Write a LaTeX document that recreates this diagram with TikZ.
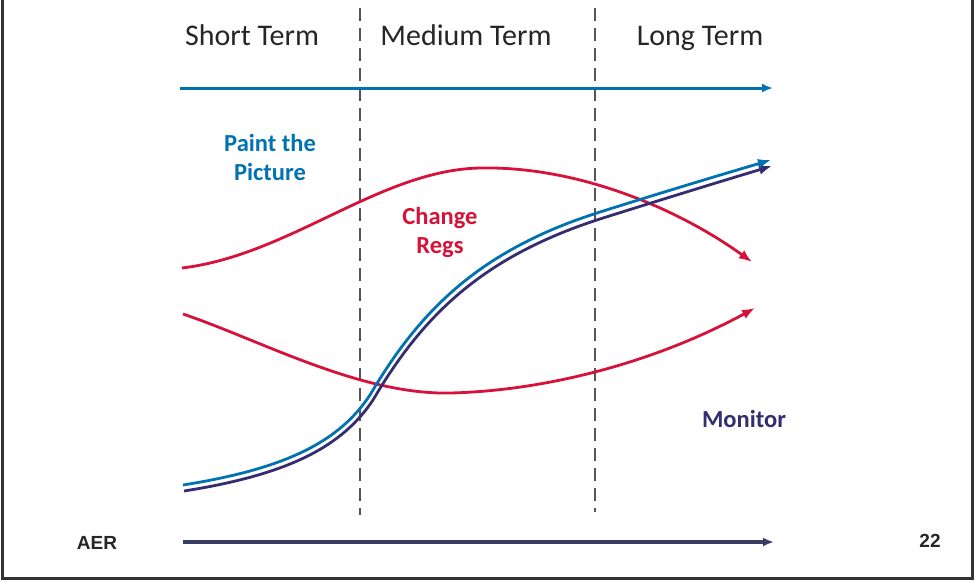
\documentclass[tikz,border=0pt]{standalone}
\usepackage{fontspec}
\setmainfont{Carlito}
\newfontfamily\arialfont{Liberation Sans}
\usetikzlibrary{arrows.meta}

\definecolor{aerblue}{RGB}{0,114,176}
\definecolor{aerred}{RGB}{214,18,58}
\definecolor{aernavy}{RGB}{52,46,112}
\definecolor{aerslate}{RGB}{56,62,98}
\definecolor{aergray}{RGB}{85,85,85}

\begin{document}
\begin{tikzpicture}[
    x=1pt, y=-1pt,
    term/.style = {font=\fontsize{30}{34}\selectfont, text=black!85, inner sep=0pt, anchor=base},
    tag/.style = {font=\fontsize{24.5}{29}\selectfont\bfseries, align=center, inner sep=0pt},
    corner/.style = {font=\arialfont\fontsize{19}{21}\selectfont\bfseries, text=black!85, inner sep=0pt},
    divider/.style = {draw=aergray, line width=1.8pt, dash pattern=on 13pt off 7pt},
    timeline/.style = {-{Latex[length=11pt,width=9pt]}, line width=3pt},
    redcurve/.style = {-{Latex[length=13pt,width=10pt]}, draw=aerred, line width=2.8pt},
    bluecurve/.style = {-{Latex[length=13pt,width=10pt]}, draw=aerblue, line width=2.8pt},
    purplecurve/.style = {-{Latex[length=13pt,width=10pt]}, draw=aernavy, line width=2.8pt}
]
\useasboundingbox (0,0) rectangle (976,582);

% frame, open at the top
\draw[line width=3pt, black!80] (2,0) -- (2,578) -- (972,578) -- (972,0);

% column headings
\node[term] (short) at (252,45) {Short Term};
\node[term] (medium) at (466,45) {Medium Term};
\node[term] (long) at (700,45) {Long Term};

% dashed column dividers
\coordinate (d1top) at (360,8);
\coordinate (d1bot) at (360,515);
\coordinate (d2top) at (595,8);
\coordinate (d2bot) at (595,512);
\draw[divider] (d1top) -- (d1bot);
\draw[divider] (d2top) -- (d2bot);

% time arrows
\coordinate (topstart) at (180,88);
\coordinate (topend) at (773,88);
\draw[timeline, draw=aerblue] (topstart) -- (topend);
\coordinate (botstart) at (183,542);
\coordinate (botend) at (774,542);
\draw[timeline, draw=aerslate, line width=4.5pt] (botstart) -- (botend);

% red curves
\coordinate (r1a) at (182,268);
\coordinate (r1b) at (752,262);
\draw[redcurve] (r1a) .. controls (290,255) and (380,170) .. (480,168)
    .. controls (580,166) and (680,210) .. (r1b);
\coordinate (r2a) at (183,314);
\coordinate (r2b) at (755,308);
\draw[redcurve] (r2a) .. controls (260,340) and (360,395) .. (450,393)
    .. controls (540,391) and (650,365) .. (r2b);

% blue and purple double curve
\coordinate (pa) at (184,491);
\coordinate (pb) at (772,166);
\draw[purplecurve] (pa) .. controls (292,474) and (343,445) .. (373,400)
    .. controls (423,315) and (483,256) .. (603,218)
    .. controls (673,196) and (722,181) .. (pb);
\coordinate (ba) at (183,485);
\coordinate (bb) at (771,160);
\draw[bluecurve] (ba) .. controls (290,468) and (340,440) .. (370,395)
    .. controls (420,310) and (480,250) .. (600,212)
    .. controls (670,190) and (720,175) .. (bb);

% curve labels
\node[tag, text=aerblue] (paint) at (270,157) {Paint the\\Picture};
\node[tag, text=aerred] (regs) at (440,232) {Change\\Regs};
\node[tag, text=aernavy] (monitor) at (744,419) {Monitor};

% footer
\node[corner] (aer) at (97,543) {AER};
\node[corner] (page) at (930,541) {22};

\end{tikzpicture}
\end{document}
